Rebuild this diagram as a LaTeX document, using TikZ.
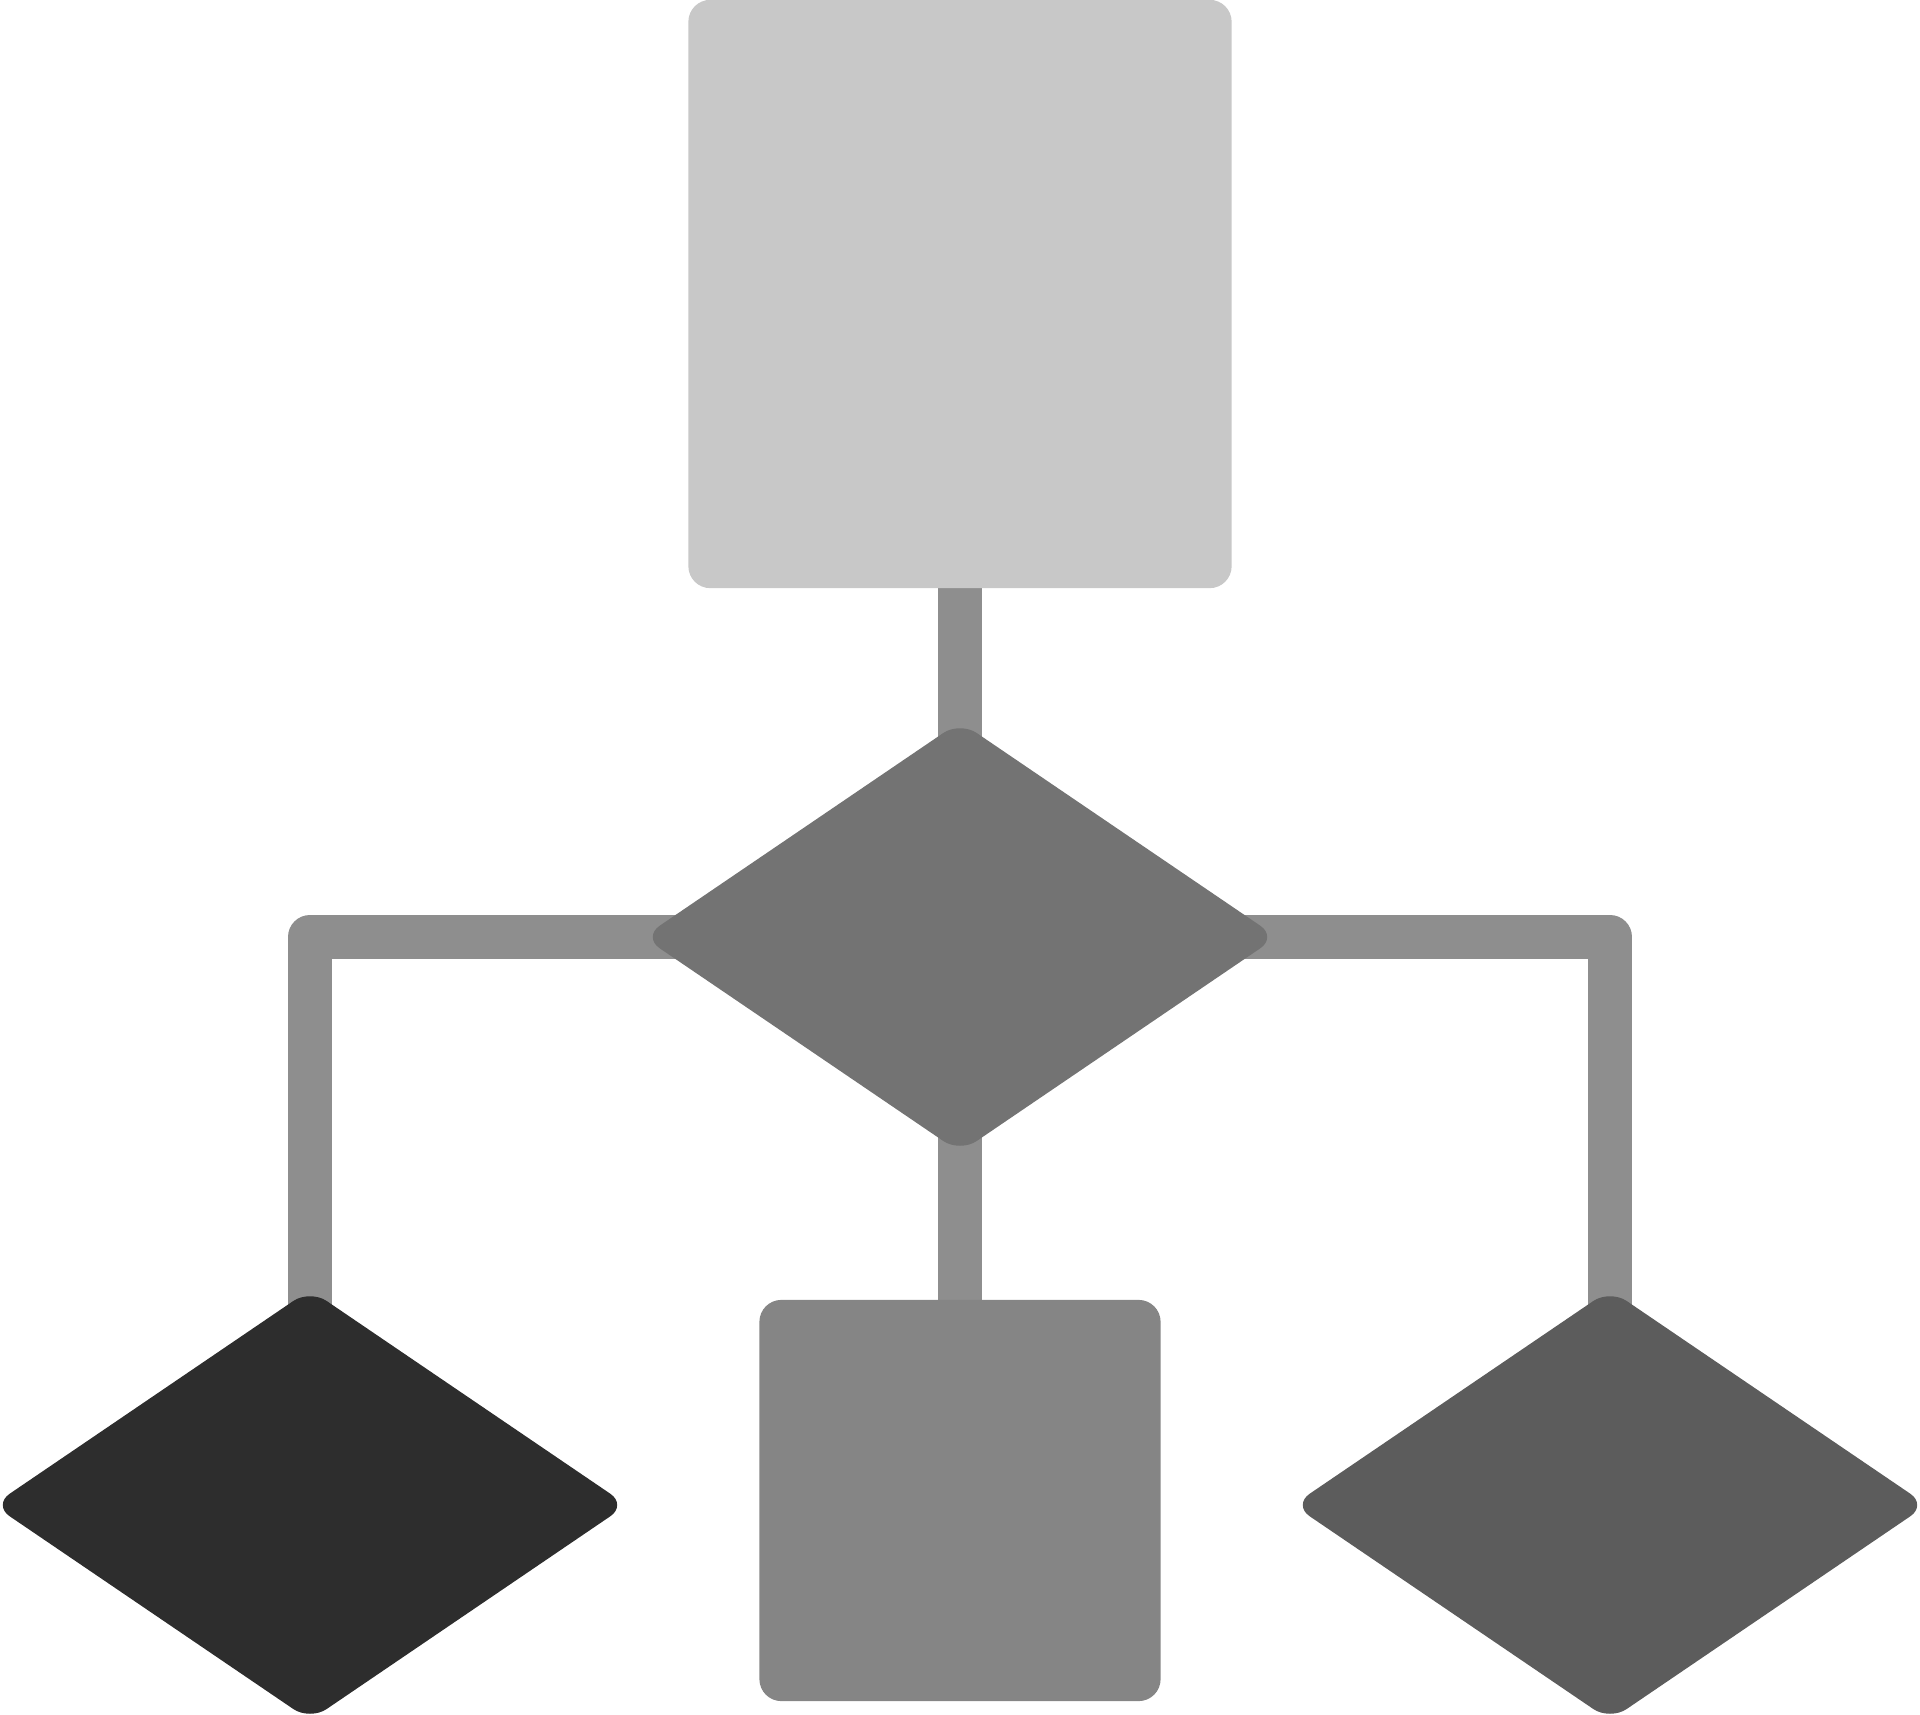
\documentclass[tikz,border=0pt]{standalone}
\usetikzlibrary{shapes.geometric,backgrounds}
\definecolor{topc}{HTML}{C8C8C8}
\definecolor{linec}{HTML}{8E8E8E}
\definecolor{midd}{HTML}{737373}
\definecolor{leftd}{HTML}{2D2D2D}
\definecolor{midr}{HTML}{858585}
\definecolor{rightd}{HTML}{5C5C5C}
\tikzset{
  box/.style={rectangle, inner sep=0pt, rounded corners=0.22cm},
  dia/.style={diamond, inner sep=0pt, rounded corners=0.2cm, minimum width=6.34cm, minimum height=4.31cm},
  conn/.style={draw=linec, line width=0.44cm, line join=round}
}
\begin{document}
\begin{tikzpicture}[x=0.01cm,y=-0.01cm]
\useasboundingbox (0,0) rectangle (1920,1715);
\node[box, fill=topc, minimum width=5.43cm, minimum height=5.88cm] (top) at (960,294) {};
\node[dia, fill=midd] (c) at (960,937) {};
\node[dia, fill=leftd] (bl) at (310,1505) {};
\node[dia, fill=rightd] (br) at (1610,1505) {};
\node[box, fill=midr, minimum width=4.01cm, minimum height=4.01cm] (m) at (960,1500.5) {};
\begin{scope}[on background layer]
\draw[conn] (top.center) -- (c.center);
\draw[conn] (c.center) -- (m.center);
\draw[conn] (c.center) -| (bl.center);
\draw[conn] (c.center) -| (br.center);
\end{scope}
\end{tikzpicture}
\end{document}
